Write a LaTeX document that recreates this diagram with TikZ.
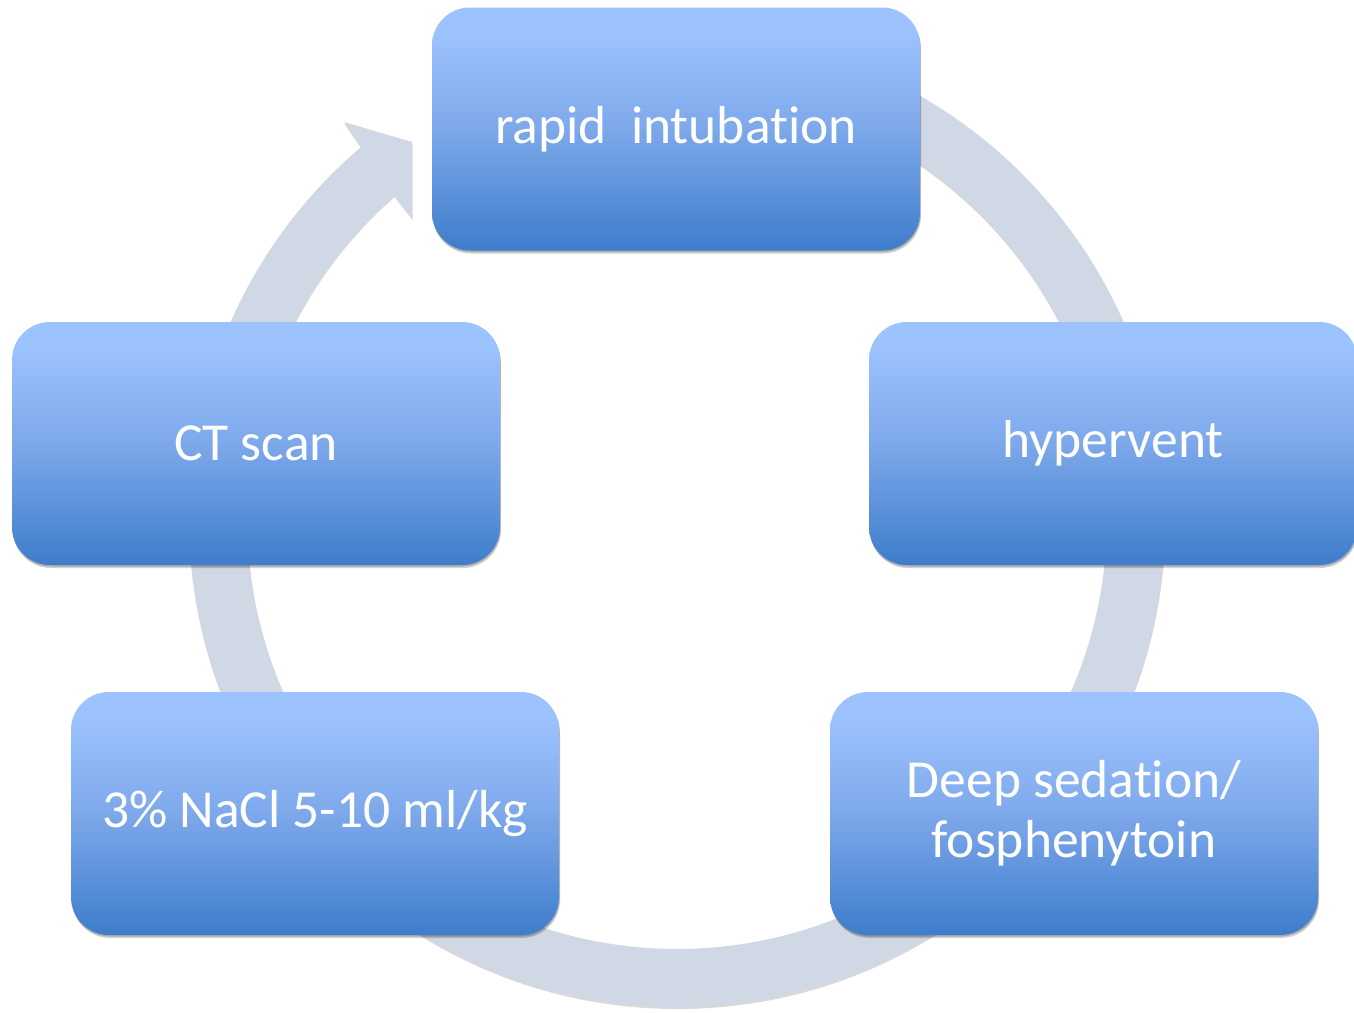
\documentclass[tikz,border=0pt]{standalone}
\usepackage{fontspec}
\setmainfont[RawFeature={-liga;-dlig;-clig}]{Carlito}
\usetikzlibrary{shadows}
\definecolor{ringc}{HTML}{D0D7E5}
\definecolor{blight}{HTML}{9DC3FF}
\definecolor{bmid}{HTML}{7DA8EA}
\definecolor{bdark}{HTML}{3E7DCC}
\pgfdeclareverticalshading{boxshade}{100bp}{color(0bp)=(bdark); color(25bp)=(bdark); color(50bp)=(bmid); color(70bp)=(blight); color(100bp)=(blight)}
\tikzset{
  stepbox/.style={rectangle, rounded corners=38pt, minimum width=488pt,
    minimum height=243pt, inner sep=0pt, shade, shading=boxshade,
    text=white, font=\fontsize{53.5}{60}\selectfont, align=center,
    drop shadow={shadow xshift=1pt, shadow yshift=-3pt, opacity=0.18, fill=black},
    drop shadow={shadow xshift=0.5pt, shadow yshift=-1.5pt, opacity=0.18, fill=black}},
  ringarrow/.style={fill=ringc,
    drop shadow={shadow xshift=0.5pt, shadow yshift=-2pt, opacity=0.15, fill=black}}
}
\begin{document}
\begin{tikzpicture}[x=1pt,y=-1pt]
\useasboundingbox (0,0) rectangle (1354,1012);
\fill[white] (0,0) rectangle (1354,1012);
% circular arrow
\begin{scope}[shift={(677,519)}, y=1pt]
  \path[ringarrow] (90:488) arc[start angle=90, end angle=-229.65, radius=488]
    -- (-333,397) -- (-265,377) -- (-265,301) -- (-228.86:430)
    arc[start angle=-228.86, end angle=90, radius=430] -- cycle;
\end{scope}
% steps
\node[stepbox] (intub) at (676,129) {\raisebox{-2pt}{rapid\ \ intubation}};
\node[stepbox] (hyper) at (1113,443.5) {hypervent};
\node[stepbox] (sed) at (1074,813.5) {Deep sedation/\\fosphenytoin};
\node[stepbox] (nacl) at (315,813.5) {3\% NaCl 5-10 ml/kg};
\node[stepbox] (ct) at (256,443.5) {CT scan};
\end{tikzpicture}
\end{document}
